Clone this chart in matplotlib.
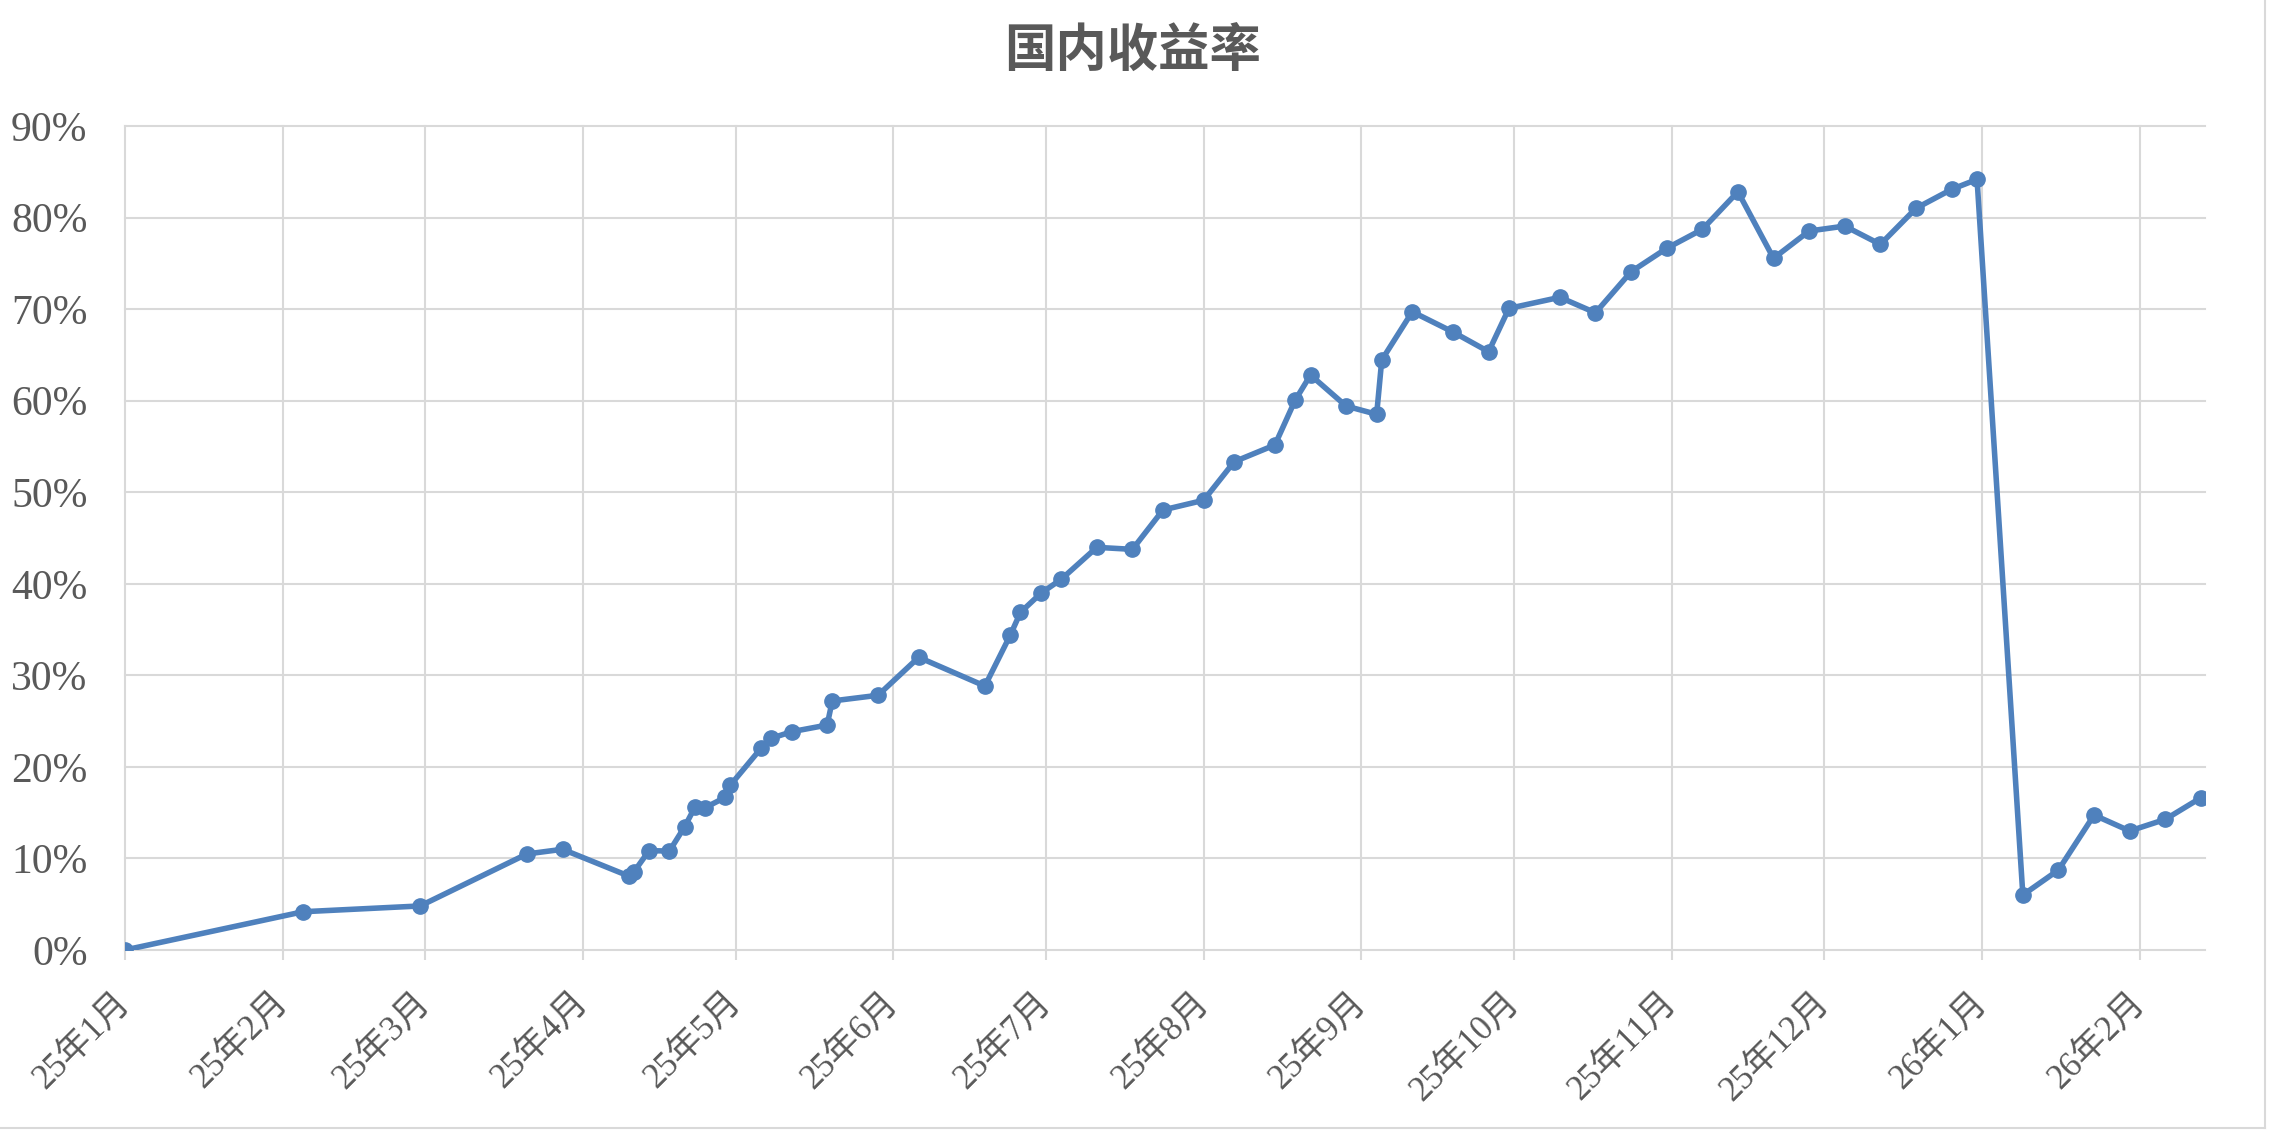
import matplotlib
matplotlib.use("Agg")
import matplotlib.pyplot as plt
import matplotlib.dates as mdates
from matplotlib.lines import Line2D
import pandas as pd

# ---- data ----
dates = ["2025-01-01", "2025-02-05", "2025-02-28", "2025-03-21", "2025-03-28",
         "2025-04-10", "2025-04-11", "2025-04-14", "2025-04-18", "2025-04-21",
         "2025-04-23", "2025-04-25", "2025-04-29", "2025-04-30", "2025-05-06",
         "2025-05-08", "2025-05-12", "2025-05-19", "2025-05-20", "2025-05-29",
         "2025-06-06", "2025-06-19", "2025-06-24", "2025-06-26", "2025-06-30",
         "2025-07-04", "2025-07-11", "2025-07-18", "2025-07-24", "2025-08-01",
         "2025-08-07", "2025-08-15", "2025-08-19", "2025-08-22", "2025-08-29",
         "2025-09-04", "2025-09-05", "2025-09-11", "2025-09-19", "2025-09-26",
         "2025-09-30", "2025-10-10", "2025-10-17", "2025-10-24", "2025-10-31",
         "2025-11-07", "2025-11-14", "2025-11-21", "2025-11-28", "2025-12-05",
         "2025-12-12", "2025-12-19", "2025-12-26", "2025-12-31", "2026-01-09",
         "2026-01-16", "2026-01-23", "2026-01-30", "2026-02-06", "2026-02-13"]
returns_pct = [0, 4.18, 4.81, 10.49, 11.0, 8.08, 8.52, 10.85, 10.81, 13.47,
               15.59, 15.54, 16.68, 18.02, 22.03, 23.12, 23.84, 24.57, 27.2, 27.82,
               31.97, 28.83, 34.4, 36.88, 38.96, 40.49, 43.98, 43.76, 48.06, 49.12,
               53.33, 55.16, 60.07, 62.8, 59.41, 58.51, 64.44, 69.71, 67.5, 65.35,
               70.08, 71.29, 69.6, 74.08, 76.64, 78.71, 82.82, 75.55, 78.53, 79.07,
               77.07, 81.01, 83.08, 84.17, 6.01, 8.74, 14.74, 13.0, 14.27, 16.63]

month_ticks = ["2025-01-01", "2025-02-01", "2025-03-01", "2025-04-01", "2025-05-01",
               "2025-06-01", "2025-07-01", "2025-08-01", "2025-09-01", "2025-10-01",
               "2025-11-01", "2025-12-01", "2026-01-01", "2026-02-01"]
month_labels = ["25年1月", "25年2月", "25年3月", "25年4月", "25年5月", "25年6月",
                "25年7月", "25年8月", "25年9月", "25年10月", "25年11月", "25年12月",
                "26年1月", "26年2月"]
y_ticks = [0, 10, 20, 30, 40, 50, 60, 70, 80, 90]
y_labels = ["0%", "10%", "20%", "30%", "40%", "50%", "60%", "70%", "80%", "90%"]
title = "国内收益率"

# ---- style ----
fam = ["Liberation Serif", "Noto Sans CJK SC", "DejaVu Sans"]
plt.rcParams["font.family"] = fam
text_color = "#595959"
grid_color = "#d9d9d9"
line_color = "#4f81bd"

W, H = 2269, 1132
fig = plt.figure(figsize=(W / 100, H / 100), dpi=100)
left, right, top, bottom = 125, 2205, 126, 950
ax = fig.add_axes([left / W, 1 - bottom / H, (right - left) / W, (bottom - top) / H])

x = pd.to_datetime(dates)
ax.plot(x, returns_pct, color=line_color, lw=4.0, marker="o", ms=11,
        markerfacecolor=line_color, markeredgecolor=line_color, zorder=3,
        solid_joinstyle="round")

xt = pd.to_datetime(month_ticks)
ax.set_xlim(mdates.date2num(pd.Timestamp("2025-01-01")),
            mdates.date2num(pd.Timestamp("2026-02-13")) + 0.8)
ax.set_ylim(0, 90)
ax.set_xticks(xt)
ax.set_xticklabels(month_labels, rotation=45, ha="right", va="center",
                   rotation_mode="anchor", fontsize=25, color=text_color)
ax.set_yticks(y_ticks)
ax.set_yticklabels(y_labels, fontsize=30, color=text_color)

ax.grid(True, color=grid_color, lw=1.5, zorder=0)
ax.set_axisbelow(True)
for s in ax.spines.values():
    s.set_visible(False)
ax.tick_params(axis="x", length=7.2, width=1.5, color=grid_color, pad=27)
ax.tick_params(axis="y", length=0, pad=27)
for gl in ax.get_xgridlines() + ax.get_ygridlines():
    gl.set_clip_on(False)

fig.text(1133 / W, 1 - 51 / H, title, ha="center", va="center",
         fontsize=37, fontweight="bold", color=text_color,
         family=["Noto Sans CJK SC", "DejaVu Sans"])

# outer frame of the chart area
fig.add_artist(Line2D([0, 2265 / W], [1 - 1128 / H, 1 - 1128 / H],
                      transform=fig.transFigure, color=grid_color, lw=1.5))
fig.add_artist(Line2D([2265 / W, 2265 / W], [1 - 1128 / H, 1],
                      transform=fig.transFigure, color=grid_color, lw=1.5))

fig.savefig("out.png", dpi=100, facecolor="white")
